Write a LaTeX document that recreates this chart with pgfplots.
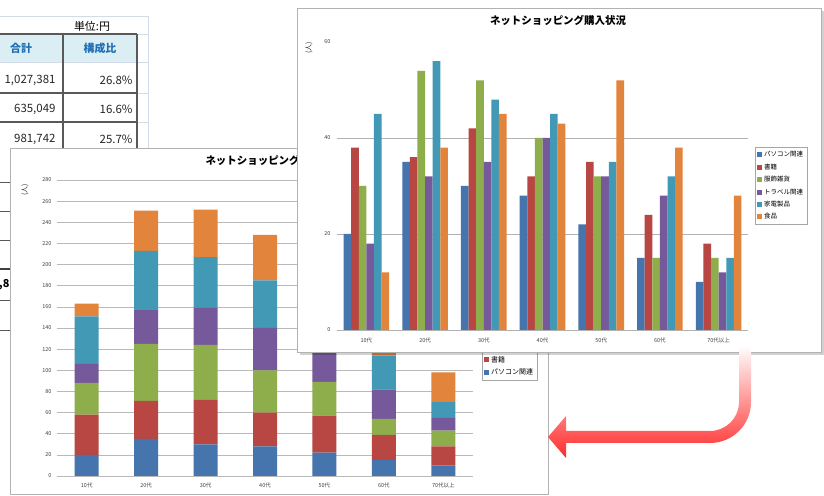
\documentclass[border=0pt]{standalone}
\usepackage{pgfplots}
\pgfplotsset{compat=1.18}
\usepackage{pgfplotstable}
\usepackage{fontspec}
\setmainfont{Noto Sans CJK JP}
\definecolor{cblue}{HTML}{4674AC}
\definecolor{cred}{HTML}{B84743}
\definecolor{cgreen}{HTML}{8EAE4C}
\definecolor{cpurple}{HTML}{76599A}
\definecolor{cteal}{HTML}{4299B6}
\definecolor{corange}{HTML}{E2843C}
\definecolor{lgrid}{HTML}{D4DBE8}
\definecolor{hdrfill}{HTML}{DAEEF3}
\definecolor{hdrtext}{HTML}{1F6FB5}
\definecolor{arrred}{HTML}{FF2A2A}
\pgfplotstableread{
cat pc book g p t food
0 20 38 30 18 45 12
1 35 36 54 32 56 38
2 30 42 52 35 48 45
3 28 32 40 40 45 43
4 22 35 32 32 35 52
5 15 24 15 28 32 38
6 10 18 15 12 15 28
}\data
\begin{document}
\begin{tikzpicture}[x=1bp,y=1bp]
\useasboundingbox (0,0) rectangle (824,496);
\fill[white] (0,0) rectangle (824,496);
% ---- spreadsheet behind ----
\fill[hdrfill] (0,434) rectangle (137,462);
\draw[lgrid] (0,480) -- (148,480) (0,462) -- (148,462) (137,434) -- (148,434)
  (137,403) -- (148,403) (137,374) -- (148,374) (148,480) -- (148,346)
  (0,434) -- (137,434);
\draw[black!65, line width=1.1bp] (63,462) -- (63,346) (137,462) -- (137,346)
  (0,462) -- (137,462) (0,403) -- (137,403) (0,374) -- (137,374);
\node[font=\fontsize{11}{12}\selectfont] at (92,470) {単位:円};
\node[font=\fontsize{11}{12}\selectfont\bfseries, text=hdrtext] at (21,448) {合計};
\node[font=\fontsize{11}{12}\selectfont\bfseries, text=hdrtext] at (100,448) {構成比};
\begin{scope}[every node/.style={font=\fontsize{11.5}{12}\selectfont, anchor=east, text=black!85}]
\node at (59,416) {1,027,381};
\node at (59,387) {635,049};
\node at (59,357) {981,742};
\node at (136,416) {26.8\%};
\node at (136,387) {16.6\%};
\node at (136,357) {25.7\%};
\end{scope}
\draw[black!65, line width=0.9bp] (0,314) -- (12,314) (0,285) -- (12,285) (0,256) -- (12,256)
  (0,196) -- (12,196) (0,166) -- (12,166);
\draw[black!75, line width=1.6bp] (0,227) -- (12,227);
\node[anchor=east, font=\fontsize{11}{12}\selectfont\bfseries] at (13,211) {,8};
% ---- stacked chart ----
\filldraw[fill=white, draw=gray!60, line width=0.8bp] (10,2) rectangle (548,348);
\node[anchor=west, font=\fontsize{10.5}{12}\selectfont\bfseries] at (202,336) {ネットショッピング購入状況};
\node[rotate=90, font=\fontsize{7}{8}\selectfont, text=black!80] at (25,306) {(人)};
\begin{axis}[at={(57bp,20bp)}, anchor=south west, scale only axis,
  width=416bp, height=296bp,
  ybar stacked, bar width=24bp,
  xmin=-0.5, xmax=6.5, ymin=0, ymax=280, ytick distance=20,
  xtick={0,...,6}, xticklabels={10代,20代,30代,40代,50代,60代,70代以上},
  xticklabel style={yshift=-3bp},
  yticklabel style={xshift=-2bp},
  ymajorgrids, grid style={gray!55, line width=0.7bp},
  axis line style={draw=none}, major tick length=0pt,
  tick label style={font=\fontsize{5.5}{6}\selectfont, text=black!75},
  /pgf/number format/assume math mode=true,
  reverse legend,
  legend style={at={(1.0216,0.324)}, anchor=south west, draw=gray!70,
    font=\fontsize{7}{8}\selectfont, row sep=1bp, inner sep=2bp},
  legend cell align=left,
  legend image code/.code={\fill[#1] (0bp,-2.5bp) rectangle (5bp,2.5bp);},
]
\addplot[fill=cblue, draw=none] table[x=cat,y=pc]{\data};
\addplot[fill=cred, draw=none] table[x=cat,y=book]{\data};
\addplot[fill=cgreen, draw=none] table[x=cat,y=g]{\data};
\addplot[fill=cpurple, draw=none] table[x=cat,y=p]{\data};
\addplot[fill=cteal, draw=none] table[x=cat,y=t]{\data};
\addplot[fill=corange, draw=none] table[x=cat,y=food]{\data};
\legend{パソコン関連,書籍,服飾雑貨,トラベル関連,家電製品,食品}
\end{axis}
% ---- clustered chart ----
\fill[black, opacity=0.18] (300,141) rectangle (824,485);
\filldraw[fill=white, draw=gray!60, line width=0.8bp] (297,144) rectangle (821,488);
\node[font=\fontsize{10.5}{12}\selectfont\bfseries] at (558,476) {ネットショッピング購入状況};
\node[rotate=90, font=\fontsize{7}{8}\selectfont, text=black!80] at (309,448) {(人)};
\begin{axis}[at={(337bp,166bp)}, anchor=south west, scale only axis,
  width=411bp, height=288bp,
  ybar=0pt, bar width=7.6bp,
  xmin=-0.5, xmax=6.5, ymin=0, ymax=60, ytick={0,20,40},
  extra y ticks={60}, extra y tick style={grid=none},
  xtick={0,...,6}, xticklabels={10代,20代,30代,40代,50代,60代,70代以上},
  xticklabel style={yshift=-4bp},
  yticklabel style={xshift=-3bp},
  ymajorgrids, grid style={gray!60, line width=0.7bp},
  axis line style={draw=none}, major tick length=0pt,
  tick label style={font=\fontsize{5.5}{6}\selectfont, text=black!75},
  /pgf/number format/assume math mode=true,
  legend style={at={(1.017,0.635)}, anchor=north west, draw=gray!70,
    font=\fontsize{6.5}{7}\selectfont, row sep=1.5bp, inner sep=2bp},
  legend cell align=left,
  legend image code/.code={\fill[#1] (0bp,-2.5bp) rectangle (5bp,2.5bp);},
]
\addplot[fill=cblue, draw=none] table[x=cat,y=pc]{\data};
\addplot[fill=cred, draw=none] table[x=cat,y=book]{\data};
\addplot[fill=cgreen, draw=none] table[x=cat,y=g]{\data};
\addplot[fill=cpurple, draw=none] table[x=cat,y=p]{\data};
\addplot[fill=cteal, draw=none] table[x=cat,y=t]{\data};
\addplot[fill=corange, draw=none] table[x=cat,y=food]{\data};
\legend{パソコン関連,書籍,服飾雑貨,トラベル関連,家電製品,食品}
\end{axis}
% ---- arrow ----
\shade[top color=white, bottom color=arrred]
  (751,151) -- (751,94) arc[start angle=0, end angle=-90, radius=41] -- (566,53)
  -- (566,38) -- (548,59) -- (566,80) -- (566,65) -- (710,65)
  arc[start angle=-90, end angle=0, radius=29] -- (739,151) -- cycle;
\end{tikzpicture}
\end{document}
